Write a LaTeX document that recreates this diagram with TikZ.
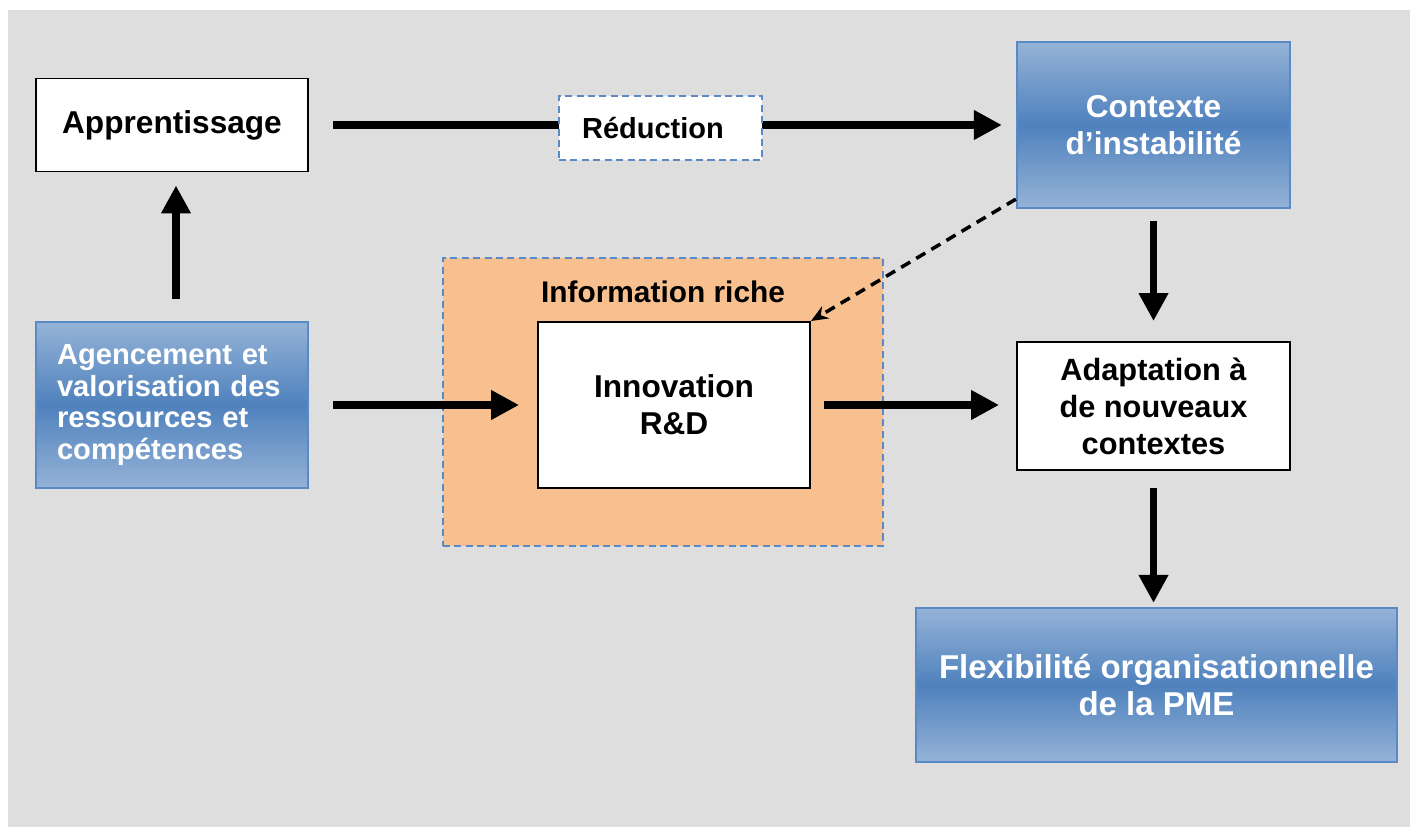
\documentclass[tikz,border=0pt]{standalone}
\usepackage{fontspec}
\setmainfont{Liberation Sans}
\usetikzlibrary{arrows.meta,positioning}

\definecolor{bggray}{HTML}{DEDEDE}
\definecolor{bluelight}{HTML}{95B3D7}
\definecolor{bluedark}{HTML}{4F81BD}
\definecolor{blueline}{HTML}{5A8AC6}
\definecolor{orangefill}{HTML}{F9C08F}

\begin{document}
\begin{tikzpicture}[x=0.02cm,y=-0.02cm,
    flow/.style={line width=4.5pt,-{Triangle[length=0.56cm,width=0.56cm]}},
    hint/.style={line width=2pt,dash pattern=on 6pt off 4pt,
                 -{Stealth[length=0.34cm,width=0.28cm]}},
    whitebox/.style={draw,line width=1.1pt,fill=white,align=center,
                     font=\fontsize{18}{21}\selectfont\bfseries},
    bluebox/.style={draw=blueline,line width=1.3pt,top color=bluelight,
                    bottom color=bluelight,middle color=bluedark,text=white,
                    align=center,font=\fontsize{18}{21}\selectfont\bfseries},
    dashbox/.style={draw=blueline,line width=1.1pt,dash pattern=on 4pt off 2.5pt}]

  \useasboundingbox (0,0) rectangle (1416,827);
  \fill[bggray] (8,10) rectangle (1410,827);

  \node[dashbox,fill=orangefill,minimum width=8.8cm,minimum height=5.76cm] (info) at (663,402) {};
  \node[font=\fontsize{17}{20}\selectfont\bfseries] (infolabel) at (663,292) {Information riche};

  \node[whitebox,minimum width=5.44cm,minimum height=1.86cm] (app) at (172,125) {Apprentissage};
  \node[bluebox,minimum width=5.46cm,minimum height=3.32cm] (ctx) at (1153.5,125) {Contexte\\d’instabilité};
  \node[bluebox,align=left,text width=4.6cm,inner xsep=0.42cm,minimum height=3.32cm,
        font=\fontsize{16.6}{18.2}\selectfont\bfseries] (agen) at (172,405)
        {Agencement et\\valorisation des\\ressources et\\compétences};
  \node[whitebox,minimum width=5.44cm,minimum height=3.32cm] (inno) at (674,405) {Innovation\\R\&D};
  \node[whitebox,minimum width=5.46cm,minimum height=2.56cm,
        font=\fontsize{17.5}{21}\selectfont\bfseries] (adapt) at (1153.5,406) {Adaptation à\\de nouveaux\\contextes};
  \node[bluebox,minimum width=9.62cm,minimum height=3.08cm,
        font=\fontsize{18.8}{21.5}\selectfont\bfseries] (flex) at (1156.5,685)
        {Flexibilité organisationnelle\\de la PME};

  \draw[flow,shorten <=0.48cm,shorten >=0.28cm] (app.east) -- (ctx.west);
  \node[dashbox,fill=white,minimum width=4.06cm,minimum height=1.28cm,
        font=\fontsize{16.5}{20}\selectfont\bfseries] (red) at (660.5,128) {\hspace*{-0.3cm}Réduction};

  \draw[flow,shorten <=0.44cm,shorten >=0.26cm] ([xshift=0.08cm]agen.north) -- ([xshift=0.08cm]app.south);
  \draw[flow,shorten <=0.48cm,shorten >=0.36cm] (agen.east) -- (inno.west);
  \draw[flow,shorten <=0.26cm,shorten >=0.34cm] (inno.east) -- (inno.east -| adapt.west);
  \draw[flow,shorten <=0.24cm,shorten >=0.4cm] (ctx.south) -- (adapt.north);
  \draw[flow,shorten <=0.34cm,shorten >=0.08cm] (adapt.south) -- (adapt.south |- flex.north);
  \draw[hint] ([yshift=0.2cm]ctx.south west) -- (inno.north east);

\end{tikzpicture}
\end{document}
